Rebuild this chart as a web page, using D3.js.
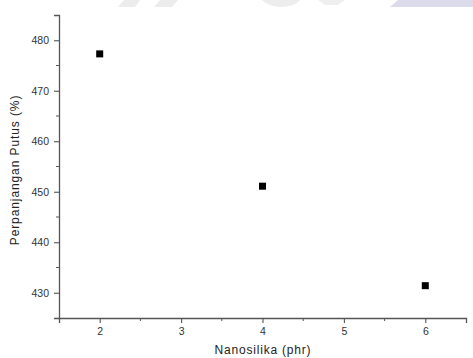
<!DOCTYPE html>
<html>
<head>
<meta charset="utf-8">
<script src="https://cdn.jsdelivr.net/npm/d3@7"></script>
<style>
  body { margin: 0; background: #fff; }
  text { font-family: "Liberation Sans", Arial, sans-serif; }
</style>
</head>
<body>
<script>
// data
var nanosilika = [2, 4, 6];
var perpanjangan = [477.3, 451.1, 431.4];
var xTicks = [2, 3, 4, 5, 6];
var yTicks = [430, 440, 450, 460, 470, 480];

var W = 473, H = 358;
var margin = {top: 15, right: 7, bottom: 40, left: 59};

var svg = d3.select("body").append("svg")
    .attr("width", W)
    .attr("height", H);

// faint watermark remnants along the top edge
var wm = svg.append("g");
wm.append("polygon").attr("points", "124,0 140,0 135,7 118,7").attr("fill", "#ececec");
wm.append("polygon").attr("points", "160,0 178,0 172,7 154,7").attr("fill", "#ececec");
wm.append("path").attr("d", "M262,0 L300,0 Q295,7 280,7 Q268,6 262,0 Z").attr("fill", "#ededed");
wm.append("polygon").attr("points", "318,0 345,0 338,5 325,5").attr("fill", "#efefef");
wm.append("polygon").attr("points", "398,0 473,0 473,7 390,7").attr("fill", "#dcdbec");

var w = W - margin.left - margin.right,
    h = H - margin.top - margin.bottom;

var g = svg.append("g")
    .attr("transform", "translate(" + margin.left + "," + margin.top + ")");

var x = d3.scaleLinear().domain([1.5, 6.5]).range([0, w]);
var y = d3.scaleLinear().domain([425, 485]).range([h, 0]);

var axisColor = "#555";

// x axis: major + minor ticks
var xMinor = [2.5, 3.5, 4.5, 5.5];
var xAx = g.append("g").attr("transform", "translate(0," + h + ")");
xAx.call(d3.axisBottom(x).tickValues(xTicks).tickSize(5).tickPadding(5).tickFormat(d3.format("d")));
xAx.append("g").selectAll("line").data(xMinor)
    .enter().append("line")
    .attr("x1", function(d){ return x(d); }).attr("x2", function(d){ return x(d); })
    .attr("y1", 0).attr("y2", 3)
    .attr("stroke", axisColor);

// y axis: major + minor ticks
var yMinor = [435, 445, 455, 465, 475];
var yAx = g.append("g");
yAx.call(d3.axisLeft(y).tickValues(yTicks).tickSize(5).tickPadding(5).tickFormat(d3.format("d")));
yAx.append("g").selectAll("line").data(yMinor)
    .enter().append("line")
    .attr("y1", function(d){ return y(d); }).attr("y2", function(d){ return y(d); })
    .attr("x1", 0).attr("x2", -3)
    .attr("stroke", axisColor);

[xAx, yAx].forEach(function(a){
    a.select(".domain").attr("stroke", axisColor).attr("stroke-width", 1.3);
    a.selectAll(".tick line").attr("stroke", axisColor).attr("stroke-width", 1.1);
    a.selectAll("text").attr("fill", "#333").attr("font-size", "10.5px")
        .attr("font-family", "Liberation Sans, Arial, sans-serif");
});

// points
var pts = nanosilika.map(function(d, i){ return [d, perpanjangan[i]]; });
g.selectAll("rect.pt").data(pts).enter().append("rect")
    .attr("class", "pt")
    .attr("x", function(d){ return x(d[0]) - 3.5; })
    .attr("y", function(d){ return y(d[1]) - 3.5; })
    .attr("width", 7).attr("height", 7)
    .attr("fill", "#000");

// axis titles
svg.append("text")
    .text("Nanosilika (phr)")
    .attr("x", 263)
    .attr("y", 354)
    .attr("text-anchor", "middle")
    .attr("letter-spacing", "0.8px")
    .attr("font-size", "12px").attr("fill", "#222");

svg.append("text")
    .text("Perpanjangan Putus (%)")
    .attr("transform", "translate(19,170) rotate(-90)")
    .attr("text-anchor", "middle")
    .attr("letter-spacing", "0.9px")
    .attr("font-size", "12px").attr("fill", "#222");
</script>
</body>
</html>
